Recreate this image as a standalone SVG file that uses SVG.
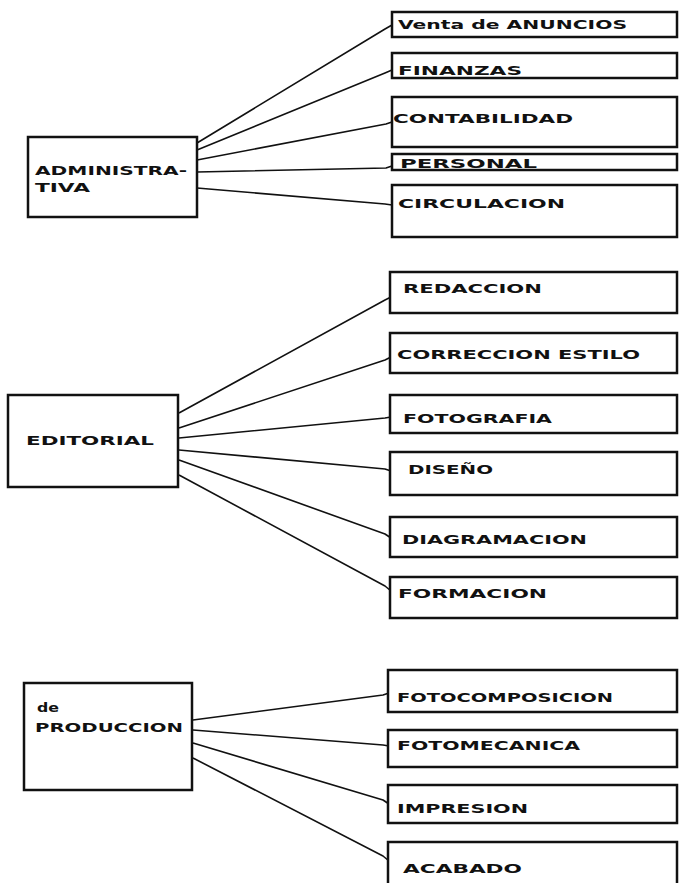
<svg xmlns="http://www.w3.org/2000/svg" width="679" height="883" viewBox="0 0 679 883">
<style>
.box{fill:#fff;stroke:#111;stroke-width:2.5}
.t{font-family:"DejaVu Sans","Liberation Sans",sans-serif;font-size:12px;font-weight:bold;fill:#111}
.c{fill:none;stroke:#111;stroke-width:1.6;stroke-linejoin:round}
</style>
<rect width="679" height="883" fill="#fff"/>
<g id="connectors">
<path class="c" d="M197,143 L385,29 L392,25"/>
<path class="c" d="M197,150 L385,73 L392,70"/>
<path class="c" d="M197,160 L386,124 L392,122"/>
<path class="c" d="M197,172 L386,168 L392,166"/>
<path class="c" d="M197,188 L385,204 L392,205"/>
<path class="c" d="M179,413 L385,300 L391,297"/>
<path class="c" d="M179,428 L385,360 L391,357"/>
<path class="c" d="M179,438 L385,418 L391,417"/>
<path class="c" d="M179,450 L385,469 L391,471"/>
<path class="c" d="M179,460 L385,534 L391,538"/>
<path class="c" d="M179,475 L385,586 L391,591"/>
<path class="c" d="M193,720 L383,695 L389,693"/>
<path class="c" d="M193,730 L383,745 L389,746"/>
<path class="c" d="M193,743 L383,800 L389,804"/>
<path class="c" d="M193,758 L383,856 L389,861"/>
</g>
<g id="administrativa"><rect class="box" x="28" y="137" width="169" height="80"/>
<text class="t" x="35" y="175" textLength="152" lengthAdjust="spacingAndGlyphs">ADMINISTRA-</text>
<text class="t" x="35" y="192" textLength="55" lengthAdjust="spacingAndGlyphs">TIVA</text></g>
<g id="ventas"><rect class="box" x="392" y="12" width="285" height="25"/>
<text class="t" x="398" y="29" textLength="229" lengthAdjust="spacingAndGlyphs">Venta de ANUNCIOS</text></g>
<g id="finanzas"><rect class="box" x="392" y="53" width="285" height="25"/>
<text class="t" x="398" y="75" textLength="124" lengthAdjust="spacingAndGlyphs">FINANZAS</text></g>
<g id="contabilidad"><rect class="box" x="392" y="97" width="285" height="50"/>
<text class="t" x="393" y="123" textLength="180" lengthAdjust="spacingAndGlyphs">CONTABILIDAD</text></g>
<g id="personal"><rect class="box" x="392" y="154" width="285" height="16"/>
<text class="t" x="400" y="168" textLength="137" lengthAdjust="spacingAndGlyphs">PERSONAL</text></g>
<g id="circulacion"><rect class="box" x="392" y="185" width="285" height="52"/>
<text class="t" x="398" y="208" textLength="167" lengthAdjust="spacingAndGlyphs">CIRCULACION</text></g>
<g id="editorial"><rect class="box" x="8" y="395" width="170" height="92"/>
<text class="t" x="26" y="445" textLength="128" lengthAdjust="spacingAndGlyphs">EDITORIAL</text></g>
<g id="redaccion"><rect class="box" x="390" y="272" width="287" height="41"/>
<text class="t" x="403" y="293" textLength="139" lengthAdjust="spacingAndGlyphs">REDACCION</text></g>
<g id="correccion"><rect class="box" x="390" y="333" width="287" height="40"/>
<text class="t" x="397" y="359" textLength="243" lengthAdjust="spacingAndGlyphs">CORRECCION ESTILO</text></g>
<g id="fotografia"><rect class="box" x="390" y="395" width="287" height="38"/>
<text class="t" x="403" y="423" textLength="149" lengthAdjust="spacingAndGlyphs">FOTOGRAFIA</text></g>
<g id="diseno"><rect class="box" x="390" y="452" width="287" height="43"/>
<text class="t" x="408" y="474" textLength="85" lengthAdjust="spacingAndGlyphs">DISEÑO</text></g>
<g id="diagramacion"><rect class="box" x="390" y="517" width="287" height="40"/>
<text class="t" x="402" y="544" textLength="185" lengthAdjust="spacingAndGlyphs">DIAGRAMACION</text></g>
<g id="formacion"><rect class="box" x="390" y="577" width="287" height="41"/>
<text class="t" x="398" y="598" textLength="149" lengthAdjust="spacingAndGlyphs">FORMACION</text></g>
<g id="produccion"><rect class="box" x="24" y="683" width="168" height="107"/>
<text class="t" x="37" y="712" textLength="22" lengthAdjust="spacingAndGlyphs">de</text>
<text class="t" x="35" y="732" textLength="148" lengthAdjust="spacingAndGlyphs">PRODUCCION</text></g>
<g id="fotocomposicion"><rect class="box" x="388" y="670" width="289" height="42"/>
<text class="t" x="397" y="702" textLength="216" lengthAdjust="spacingAndGlyphs">FOTOCOMPOSICION</text></g>
<g id="fotomecanica"><rect class="box" x="388" y="730" width="289" height="37"/>
<text class="t" x="397" y="750" textLength="183" lengthAdjust="spacingAndGlyphs">FOTOMECANICA</text></g>
<g id="impresion"><rect class="box" x="388" y="785" width="289" height="38"/>
<text class="t" x="397" y="813" textLength="131" lengthAdjust="spacingAndGlyphs">IMPRESION</text></g>
<g id="acabado"><rect class="box" x="388" y="842" width="289" height="50"/>
<text class="t" x="403" y="873" textLength="119" lengthAdjust="spacingAndGlyphs">ACABADO</text></g>
</svg>
